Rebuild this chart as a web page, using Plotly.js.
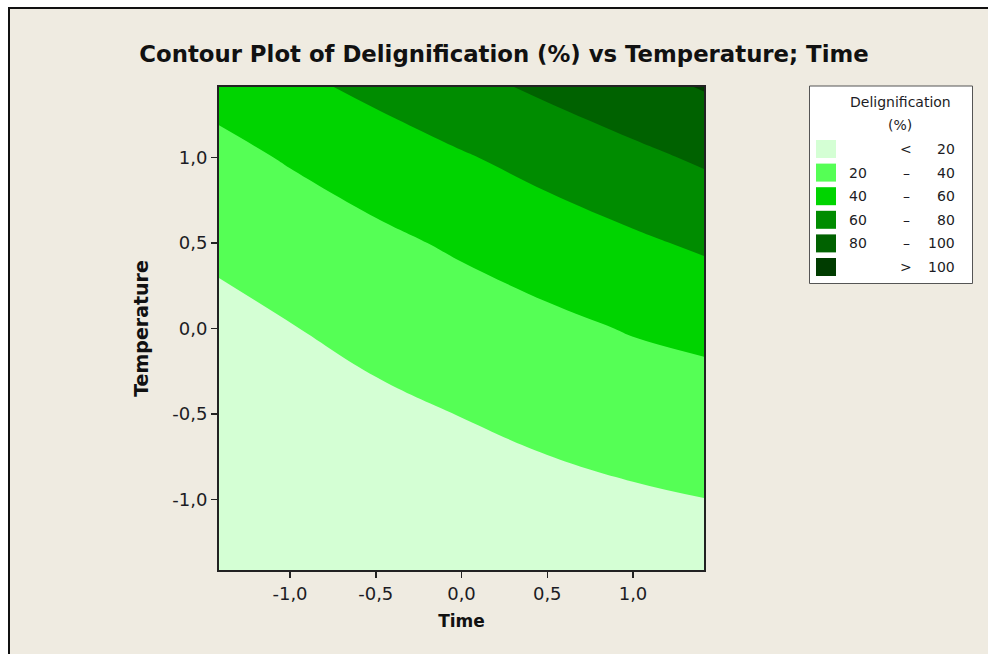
<!DOCTYPE html>
<html>
<head>
<meta charset="utf-8">
<script src="https://cdn.plot.ly/plotly-3.0.1.min.js"></script>
<style>
  html, body { margin: 0; padding: 0; background: #ffffff; width: 988px; height: 654px; overflow: hidden; }
  #panel { position: absolute; left: 8px; top: 7px; width: 990px; height: 660px;
           background: #efebe1; border-top: 2px solid #111; border-left: 2px solid #111; }
  #chart { position: absolute; left: 0; top: 0; width: 988px; height: 654px; }
</style>
</head>
<body>
<div id="panel"></div>
<div id="chart"></div>
<script>
// Coded factor settings (central composite design, alpha = 1.414)
const time = [-1.414, -1, -0.5, 0, 0.5, 1, 1.414];
const temperature = [-1.414, -1, -0.5, 0, 0.5, 1, 1.414];

// Fitted delignification (%) on the grid: one row per temperature, one column per time
const delignification = [
  [ 6.81,  7.62,  8.70,  9.88, 11.16, 12.54,  13.75],
  [ 6.83,  8.68, 11.00, 13.42, 15.30, 17.80,  19.80],
  [ 9.49, 12.58, 16.40, 20.32, 24.34, 28.46,  31.95],
  [15.03, 19.36, 24.68, 30.10, 35.62, 41.24,  43.96],
  [23.44, 29.01, 35.83, 42.75, 49.77, 56.89,  62.86],
  [34.73, 41.54, 49.86, 58.28, 66.80, 75.42,  82.63],
  [46.25, 55.30, 64.50, 74.30, 83.60, 92.94, 101.19]
];

// Contour levels and the fill of each band (below first level ... above last level)
const levels = [20, 40, 60, 80, 100];
const bandColors = ['#d4ffd4', '#55ff55', '#00d400', '#008c00', '#006200', '#003c00'];

const tickVals = [-1, -0.5, 0, 0.5, 1];
const tickText = ['-1,0', '-0,5', '0,0', '0,5', '1,0'];

const FONT = 'DejaVu Sans, Verdana, sans-serif';
const TXT = '#1c1c24';

// Step colour scale: every band keeps a single flat colour
const nb = bandColors.length;
const colorscale = [];
bandColors.forEach((c, i) => {
  const lo = i === 0 ? 0 : (i - 0.5) / (nb - 1);
  const hi = i === nb - 1 ? 1 : (i + 0.5) / (nb - 1);
  colorscale.push([lo, c], [hi, c]);
});

const W = 988, H = 654;
const M = { l: 219, r: 284, t: 87, b: 84 };
const PW = W - M.l - M.r, PH = H - M.t - M.b;
const px = x => (x - M.l) / PW;          // pixel x -> paper x
const py = y => (H - M.b - y) / PH;      // pixel y -> paper y

const trace = {
  type: 'contour',
  x: time,
  y: temperature,
  z: delignification,
  autocontour: false,
  contours: { start: levels[0], end: levels[levels.length - 1], size: levels[1] - levels[0],
              coloring: 'fill', showlines: false },
  line: { width: 0, smoothing: 1.2 },
  colorscale: colorscale,
  showscale: false,
  hoverinfo: 'skip'
};

// Legend box built from the level list
const shapes = [{
  type: 'rect', xref: 'paper', yref: 'paper',
  x0: px(809.5), x1: px(972.5), y0: py(86), y1: py(283.5),
  fillcolor: '#ffffff', line: { color: '#555', width: 1 }
}];
const annotations = [
  { text: 'Delignification', x: px(900), y: py(102.5) },
  { text: '(%)', x: px(900), y: py(125) }
].map(a => Object.assign({ xref: 'paper', yref: 'paper', showarrow: false, xanchor: 'center', yanchor: 'middle',
                           font: { family: FONT, size: 14, color: TXT } }, a));

const rowStep = 23.6, row0 = 149;
bandColors.forEach((c, i) => {
  const cy = row0 + i * rowStep;
  shapes.push({ type: 'rect', xref: 'paper', yref: 'paper',
    x0: px(816), x1: px(836), y0: py(cy + 9), y1: py(cy - 9),
    fillcolor: c, line: { width: 0 } });
  let lo = '', mid = '–', hi = '';
  if (i === 0) { mid = '<'; hi = String(levels[0]); }
  else if (i === nb - 1) { mid = '>'; hi = String(levels[levels.length - 1]); }
  else { lo = String(levels[i - 1]); hi = String(levels[i]); }
  const base = { xref: 'paper', yref: 'paper', showarrow: false, yanchor: 'middle', y: py(cy),
                 font: { family: FONT, size: 14, color: TXT } };
  if (lo) annotations.push(Object.assign({}, base, { text: lo, x: px(847), xanchor: 'left' }));
  annotations.push(Object.assign({}, base, { text: mid, x: px(906), xanchor: 'center' }));
  annotations.push(Object.assign({}, base, { text: hi, x: px(957), xanchor: 'right' }));
});

const axisCommon = {
  range: [-1.414, 1.414],
  tickvals: tickVals,
  ticktext: tickText,
  ticks: 'outside', ticklen: 6, tickwidth: 1.5, tickcolor: '#222',
  showline: true, mirror: true, linecolor: '#222', linewidth: 2,
  showgrid: false, zeroline: false, fixedrange: true,
  tickfont: { family: FONT, size: 18, color: TXT }
};

const layout = {
  width: W, height: H,
  margin: M,
  paper_bgcolor: 'rgba(0,0,0,0)',
  plot_bgcolor: '#d4ffd4',
  showlegend: false,
  title: {
    text: 'Contour Plot of Delignification (%) vs Temperature; Time',
    font: { family: FONT, size: 22.8, color: '#111', weight: 'bold' },
    xref: 'container', yref: 'container', x: 504 / W, y: 1 - 54 / H,
    xanchor: 'center', yanchor: 'middle'
  },
  xaxis: Object.assign({}, axisCommon, {
    title: { text: '<b>Time</b>', font: { family: FONT, size: 17, color: '#111' }, standoff: 13 }
  }),
  yaxis: Object.assign({}, axisCommon, {
    title: { text: '<b>Temperature</b>', font: { family: FONT, size: 19, color: '#111' }, standoff: 19 }
  }),
  shapes: shapes,
  annotations: annotations
};

Plotly.newPlot('chart', [trace], layout, { displayModeBar: false, staticPlot: true });
</script>
</body>
</html>
